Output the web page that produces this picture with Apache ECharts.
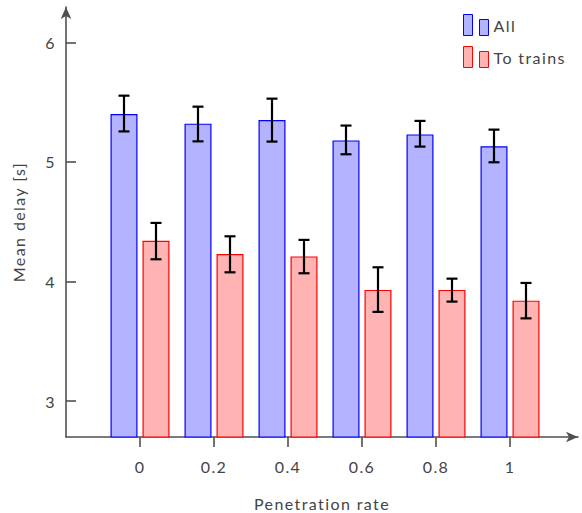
<!DOCTYPE html>
<html>
<head>
<meta charset="utf-8">
<script src="https://cdn.jsdelivr.net/npm/echarts@6/dist/echarts.min.js"></script>
<style>html,body{margin:0;padding:0;background:#fff}#c{width:582px;height:513px}#c text{letter-spacing:1.4px}</style>
</head>
<body>
<div id="c"></div>
<script>
// ---- data ----
const rates = [0, 0.2, 0.4, 0.6, 0.8, 1];
const rateLabels = ['0', '0.2', '0.4', '0.6', '0.8', '1'];
const allMean = [5.40, 5.32, 5.35, 5.18, 5.23, 5.13];
const allLow  = [5.255, 5.172, 5.170, 5.064, 5.128, 4.997];
const allHigh = [5.554, 5.462, 5.529, 5.304, 5.343, 5.270];
const trainMean = [4.34, 4.23, 4.21, 3.93, 3.93, 3.84];
const trainLow  = [4.186, 4.077, 4.069, 3.746, 3.832, 3.692];
const trainHigh = [4.490, 4.378, 4.348, 4.119, 4.024, 3.988];
const yTicks = [3, 4, 5, 6];

// ---- styles ----
const FONT = 'Lato';
const FS = 16;
const AXIS = '#505050';
const TXT = '#444';
const BAR_W = 27, BAR_GAP = 5;
const OFF = (BAR_W + BAR_GAP) / 2;
const CAP = 5.5;

function errSeries(name, low, high, dir) {
  return {
    type: 'custom', name: name, z: 10, clip: false,
    data: rates.map((r, i) => [r, low[i], high[i]]),
    renderItem: function (params, api) {
      const lo = api.coord([api.value(0), api.value(1)]);
      const hi = api.coord([api.value(0), api.value(2)]);
      const x = lo[0] + dir * OFF;
      const st = { stroke: '#000', lineWidth: 2.2 };
      return { type: 'group', children: [
        { type: 'line', shape: { x1: x, y1: lo[1], x2: x, y2: hi[1] }, style: st },
        { type: 'line', shape: { x1: x - CAP, y1: lo[1], x2: x + CAP, y2: lo[1] }, style: st },
        { type: 'line', shape: { x1: x - CAP, y1: hi[1], x2: x + CAP, y2: hi[1] }, style: st }
      ]};
    }
  };
}

const chart = echarts.init(document.getElementById('c'), null, { renderer: 'svg' });
chart.setOption({
  animation: false,
  textStyle: { fontFamily: FONT },
  grid: { left: 66, top: 7, width: 512, height: 430, containLabel: false, outerBoundsMode: 'none' },
  legend: {
    data: ['All', 'To trains'],
    orient: 'vertical', left: 458, top: 9,
    itemWidth: 25, itemHeight: 21, itemGap: 10,
    icon: 'path://M0,0H9V21H0Z M16,5H25V21H16Z',
    itemStyle: { borderWidth: 1 },
    textStyle: { fontFamily: FONT, fontSize: FS, color: TXT, padding: [0, 0, 0, 0] },
    selectedMode: false
  },
  xAxis: {
    type: 'value', min: -0.2, max: -0.2 + 512 / 370,
    name: 'Penetration rate', nameLocation: 'middle', nameGap: 58,
    nameTextStyle: { fontFamily: FONT, fontSize: FS, color: TXT },
    splitLine: { show: false },
    axisLine: { show: true, onZero: false, lineStyle: { color: AXIS, width: 1.6 }, symbol: ['none', 'arrow'], symbolSize: [8, 12] },
    axisTick: { show: true, inside: false, length: 10, lineStyle: { color: AXIS, width: 1.6 }, customValues: rates },
    axisLabel: { fontFamily: FONT, fontSize: FS, color: TXT, margin: 21, customValues: rates,
      formatter: v => { const i = rates.findIndex(r => Math.abs(r - v) < 1e-9); return i >= 0 ? rateLabels[i] : ''; } }
  },
  yAxis: {
    type: 'value', min: 2.7, max: 2.7 + 430 / 119.6,
    name: 'Mean delay [s]', nameLocation: 'middle', nameGap: 40, nameRotate: 90,
    nameTextStyle: { fontFamily: FONT, fontSize: FS, color: TXT },
    splitLine: { show: false },
    axisLine: { show: true, onZero: false, lineStyle: { color: AXIS, width: 1.6 }, symbol: ['none', 'arrow'], symbolSize: [8, 12] },
    axisTick: { show: true, inside: true, length: 10, lineStyle: { color: AXIS, width: 1.6 }, customValues: yTicks },
    axisLabel: { fontFamily: FONT, fontSize: FS, color: TXT, margin: 10, customValues: yTicks, formatter: v => String(v) }
  },
  series: [
    { type: 'bar', name: 'All', barWidth: BAR_W, barGap: (BAR_GAP / BAR_W * 100) + '%',
      data: rates.map((r, i) => [r, allMean[i]]),
      itemStyle: { color: '#b3b3ff', borderColor: '#0000ff', borderWidth: 1.2 } },
    { type: 'bar', name: 'To trains', barWidth: BAR_W, barGap: (BAR_GAP / BAR_W * 100) + '%',
      data: rates.map((r, i) => [r, trainMean[i]]),
      itemStyle: { color: '#ffb3b3', borderColor: '#ff0000', borderWidth: 1.2 } },
    errSeries('errAll', allLow, allHigh, -1),
    errSeries('errTrains', trainLow, trainHigh, 1)
  ]
});
</script>
</body>
</html>
